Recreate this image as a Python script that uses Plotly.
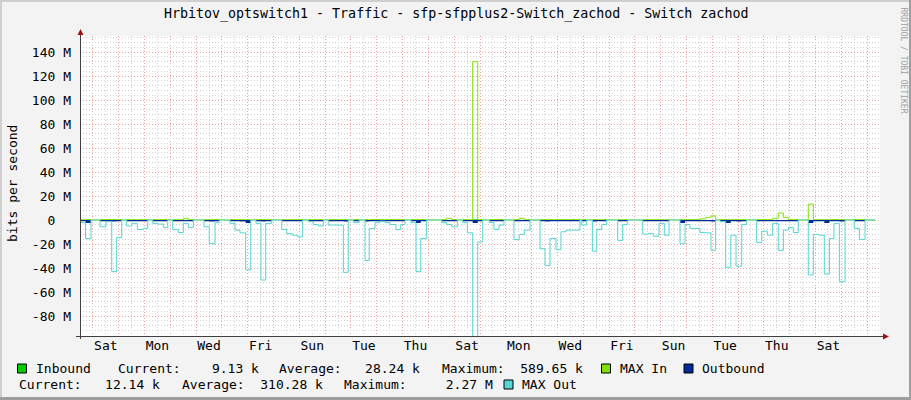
import plotly.graph_objects as go

# ---------------- data (hours since left edge of graph; values in Mbit/s) ----------------
hours = [
    0, 5.1, 10.2, 18.6, 24.2, 29.5, 34.1, 38.8, 43.4, 48.1,
    53.3, 58.9, 63.0, 67.6, 71.9, 77.5, 81.6, 86.2, 91.4, 96.1,
    100.7, 105.4, 115.3, 120.2, 125.6, 129.5, 139.5, 144.2, 148.8, 154.1,
    158.8, 163.7, 168.3, 172.7, 178.3, 187.6, 192.2, 197.4, 202.5, 207.1,
    212.3, 217.0, 221.6, 226.3, 230.9, 244.9, 249.5, 254.2, 259.7, 265.1,
    269.0, 274.4, 279.0, 283.7, 288.3, 293.9, 298.3, 302.3, 307.8, 312.5,
    316.9, 322.4, 336.4, 341.0, 345.7, 350.9, 355.9, 360.2, 365.2, 369.9,
    374.5, 380.6, 385.0, 389.7, 394.3, 403.6, 408.5, 413.2, 418.5, 427.8,
    432.5, 437.1, 442.7, 447.3, 452.0, 465.0, 466.6, 471.2, 476.5, 480.6,
    485.2, 489.8, 500.1, 504.7, 509.4, 523.3, 528.5, 533.2, 538.5, 543.4,
    547.8, 558.0, 562.7, 567.3, 576.6, 581.9, 586.8, 591.2, 595.2, 600.5,
    605.2, 610.1, 615.4, 620.0, 629.3, 634.0, 639.2, 644.2, 649.4, 654.1,
    658.7, 663.4, 668.0, 677.3, 682.0, 687.6, 692.2, 696.9, 701.2, 706.2,
    711.5, 720.1, 724.8, 730.1, 739.4,
]
max_out = [
    -2.2, -15.5, 0, -5.6, -1.4, -43.0, -14.6, 0, -5.0, -2.8,
    -7.9, -7.0, 0, -2.8, -3.4, -6.2, 0, -7.9, -10.4, -2.8,
    -6.2, 0, -5.6, -19.7, -2.2, 0, -2.8, -8.4, -10.7, -41.6,
    0, -2.8, -50.0, -2.8, 0, -7.9, -11.2, -12.7, -14.0, 0,
    -1.4, -3.7, -5.0, 0, -4.2, -43.6, 0, -2.2, 0, -33.7,
    -7.0, -2.2, -1.0, -2.2, -3.7, -7.9, -3.7, 0, -2.2, -43.0,
    -15.5, 0, -2.2, -3.7, -5.6, 0, -2.2, -10.7, -130.0, -18.3,
    0, -2.2, -7.9, -4.2, 0, -16.3, -12.1, -8.4, 0, -23.9,
    -38.0, -15.5, -24.7, -9.8, -8.4, 0, -4.2, 0, -26.0, -7.9,
    -3.7, 0, -17.0, -3.7, 0, -11.8, -11.2, -13.5, -2.8, -12.7,
    0, -19.7, -3.7, -7.0, -10.4, -10.7, -25.3, 0, -1.4, -39.4,
    -12.7, -38.5, -3.7, 0, -18.8, -9.3, -12.7, -2.8, -25.3, -8.4,
    -6.2, -10.4, 0, -45.8, -12.1, -12.7, -45.0, -15.5, -2.8, -51.4,
    0, -7.0, -16.3, 0, 0,
]
max_in = [
    0.3, 0.3, 0, 0.4, 0.4, 0.4, 0.4, 0, 0.3, 0.3,
    0.3, 0.3, 0, 0.3, 0.3, 0.3, 0, 0.3, 0.3, 1.4,
    0.3, 0, 0.3, 0.3, 0.3, 0, 0.3, 0.3, 0.3, 0.3,
    0, 0.3, 0.3, 0.3, 0, 0.3, 0.3, 0.3, 0.3, 0,
    0.3, 0.3, 0.3, 0, 0.3, 0.3, 0, 0.5, 0, 0.3,
    0.3, 0.3, 0.3, 0.3, 0.3, 0.3, 0.3, 0, 0.3, 0.3,
    0.3, 0, 0.3, 1.4, 0.3, 0, 0.3, 0.3, 132.0, 0.3,
    0, 0.3, 0.3, 0.3, 0, 0.3, 1.4, 0.3, 0, 0.3,
    0.3, 0.3, 0.3, 0.3, 0.3, 0, 0.3, 0, 0.3, 0.3,
    0.3, 0, 0.3, 0.3, 0, 0.3, 0.3, 0.3, 0.3, 0.3,
    0, 0.3, 0.3, 0.3, 1.0, 2.2, 3.4, 0, 0.3, 0.3,
    0.3, 0.3, 0.3, 0, 0.3, 0.3, 0.3, 1.4, 5.9, 2.2,
    0.3, 0.3, 0, 13.2, 0.3, 0.3, 0.3, 0.3, 0.3, 0.3,
    0, 0.3, 0.3, 0, 0,
]
outbound = [
    -1.0, -2.4, 0, -1.0, -1.0, -1.2, -1.0, 0, -1.0, -1.0,
    -1.0, -1.0, 0, -1.0, -1.0, -1.0, 0, -1.0, -1.0, -1.0,
    -1.0, 0, -1.0, -1.2, -1.0, 0, -1.0, -1.0, -1.2, -2.4,
    0, -1.0, -1.2, -1.0, 0, -1.0, -1.0, -1.0, -1.0, 0,
    -1.0, -1.0, -1.0, 0, -1.0, -1.2, 0, -1.0, 0, -1.2,
    -1.0, -1.0, -1.0, -1.0, -1.0, -1.0, -1.0, 0, -1.0, -2.4,
    -1.0, 0, -1.0, -1.0, -1.0, 0, -1.0, -1.0, -2.4, -1.0,
    0, -1.0, -1.0, -1.0, 0, -1.0, -1.0, -1.0, 0, -1.0,
    -1.2, -1.0, -1.0, -1.0, -1.0, 0, -1.0, 0, -1.2, -1.0,
    -1.0, 0, -1.0, -1.0, 0, -1.0, -1.0, -1.0, -1.0, -1.0,
    0, -2.4, -1.0, -1.0, -1.0, -1.0, -1.2, 0, -1.0, -2.4,
    -1.0, -1.2, -1.0, 0, -1.0, -1.0, -1.0, -1.0, -1.0, -1.0,
    -1.0, -1.0, 0, -2.4, -1.0, -1.0, -2.4, -1.0, -1.0, -1.2,
    0, -1.0, -1.0, 0, 0,
]
inbound = [
    0.03, 0.03, 0, 0.03, 0.03, 0.03, 0.03, 0, 0.03, 0.03,
    0.03, 0.03, 0, 0.03, 0.03, 0.03, 0, 0.03, 0.03, 0.03,
    0.03, 0, 0.03, 0.03, 0.03, 0, 0.03, 0.03, 0.03, 0.03,
    0, 0.03, 0.03, 0.03, 0, 0.03, 0.03, 0.03, 0.03, 0,
    0.03, 0.03, 0.03, 0, 0.03, 0.03, 0, 0.03, 0, 0.03,
    0.03, 0.03, 0.03, 0.03, 0.03, 0.03, 0.03, 0, 0.03, 0.03,
    0.03, 0, 0.03, 0.03, 0.03, 0, 0.03, 0.03, 0.59, 0.03,
    0, 0.03, 0.03, 0.03, 0, 0.03, 0.03, 0.03, 0, 0.03,
    0.03, 0.03, 0.03, 0.03, 0.03, 0, 0.03, 0, 0.03, 0.03,
    0.03, 0, 0.03, 0.03, 0, 0.03, 0.03, 0.03, 0.03, 0.03,
    0, 0.03, 0.03, 0.03, 0.03, 0.03, 0.03, 0, 0.03, 0.03,
    0.03, 0.03, 0.03, 0, 0.03, 0.03, 0.03, 0.03, 0.03, 0.03,
    0.03, 0.03, 0, 0.03, 0.03, 0.03, 0.03, 0.03, 0.03, 0.03,
    0, 0.03, 0.03, 0, 0,
]

noon_hours = [24, 48, 72, 96, 120, 144, 168, 192, 216, 240, 264, 288, 312, 336, 360,
              384, 408, 432, 456, 480, 504, 528, 552, 576, 600, 624, 648, 672, 696, 720]
noon_labels = ["Sat", "", "Mon", "", "Wed", "", "Fri", "", "Sun", "", "Tue", "", "Thu", "",
               "Sat", "", "Mon", "", "Wed", "", "Fri", "", "Sun", "", "Tue", "", "Thu", "",
               "Sat", ""]
y_ticks = [-80, -60, -40, -20, 0, 20, 40, 60, 80, 100, 120, 140]
y_labels = ["-80 M", "-60 M", "-40 M", "-20 M", "0\u00a0\u00a0", "20 M", "40 M",
            "60 M", "80 M", "100 M", "120 M", "140 M"]

title_text = "Hrbitov_optswitch1 - Traffic - sfp-sfpplus2-Switch_zachod - Switch zachod"
legend_line1 = [("Inbound", 35), ("Current:    9.13 k", 116.7), ("Average:   28.24 k", 278.3),
                ("Maximum:  589.65 k", 440.7), ("MAX In", 619), ("Outbound", 701)]
legend_line2 = [("Current:   12.14 k", 18.3), ("Average:  310.28 k", 181),
                ("Maximum:     2.27 M", 342.7), ("MAX Out", 520.7)]

C_IN = "#00CC00"
C_MAXIN = "#80E000"
C_OUT = "#002A97"
C_MAXOUT = "#55D6D3"

# ---------------- geometry helpers (pixel -> paper) ----------------
W, H = 911, 400
L, R, T, B = 80, 880, 36, 336


def px(x):
    return (x - L) / (R - L)


def py(y):
    return (B - y) / (B - T)


FONT = "DejaVu Sans Mono"

fig = go.Figure()
fig.add_trace(go.Scatter(x=hours, y=inbound, mode="lines", line=dict(shape="hv", width=0, color=C_IN),
                         fill="tozeroy", fillcolor=C_IN, hoverinfo="skip"))
fig.add_trace(go.Scatter(x=hours, y=max_in, mode="lines", line=dict(shape="hv", width=1, color=C_MAXIN),
                         hoverinfo="skip"))
fig.add_trace(go.Scatter(x=hours, y=outbound, mode="lines", line=dict(shape="hv", width=0, color=C_OUT),
                         fill="tozeroy", fillcolor=C_OUT, hoverinfo="skip"))
fig.add_trace(go.Scatter(x=hours, y=max_out, mode="lines", line=dict(shape="hv", width=1, color=C_MAXOUT),
                         hoverinfo="skip"))

RED_GRID = "#EFA0A0"
GRAY_GRID = "#D4D4D4"
DASH = "1px,2px"

fig.update_layout(
    width=W, height=H,
    margin=dict(l=L, r=W - R, t=T, b=H - B, pad=0),
    paper_bgcolor="#F3F3F3", plot_bgcolor="#FFFFFF",
    showlegend=False, hovermode=False,
    font=dict(family=FONT, size=13, color="#000000"),
    xaxis=dict(range=[0, 744], tickmode="array", tickvals=noon_hours, ticktext=noon_labels,
               showgrid=True, gridcolor=GRAY_GRID, griddash=DASH, gridwidth=1,
               minor=dict(tick0=12, dtick=24, showgrid=True, gridcolor=RED_GRID, griddash=DASH,
                          gridwidth=1, ticks=""),
               zeroline=False, showline=False, ticks="", automargin=False, fixedrange=True,
               tickfont=dict(family=FONT, size=13, color="#000")),
    yaxis=dict(range=[-96.67, 153.33], tickmode="array", tickvals=y_ticks, ticktext=y_labels,
               showgrid=True, gridcolor=RED_GRID, griddash=DASH, gridwidth=1,
               minor=dict(tick0=0, dtick=4, showgrid=True, gridcolor=GRAY_GRID, griddash=DASH,
                          gridwidth=1, ticks=""),
               zeroline=False, showline=False, ticks="", ticklabelstandoff=8,
               automargin=False, fixedrange=True,
               tickfont=dict(family=FONT, size=13, color="#000")),
)

shapes = []
# outer frame
shapes.append(dict(type="rect", xref="paper", yref="paper", x0=px(0), x1=px(911), y0=py(0), y1=py(2),
                   fillcolor="#CFCFCF", line=dict(width=0), layer="below"))
shapes.append(dict(type="rect", xref="paper", yref="paper", x0=px(0), x1=px(2), y0=py(0), y1=py(400),
                   fillcolor="#CFCFCF", line=dict(width=0), layer="below"))
shapes.append(dict(type="rect", xref="paper", yref="paper", x0=px(909), x1=px(911), y0=py(0), y1=py(400),
                   fillcolor="#9E9E9E", line=dict(width=0), layer="below"))
shapes.append(dict(type="rect", xref="paper", yref="paper", x0=px(0), x1=px(911), y0=py(397), y1=py(400),
                   fillcolor="#9E9E9E", line=dict(width=0), layer="below"))
# axes
AX = "#404040"
shapes.append(dict(type="line", xref="paper", yref="paper", x0=px(80.5), x1=px(80.5), y0=py(339), y1=py(33),
                   line=dict(color=AX, width=1)))
shapes.append(dict(type="line", xref="paper", yref="paper", x0=px(76), x1=px(884), y0=py(336.5), y1=py(336.5),
                   line=dict(color=AX, width=1)))
ARROW = "#A01010"
shapes.append(dict(type="path", xref="paper", yref="paper",
                   path=f"M {px(77.5)},{py(35)} L {px(83.5)},{py(35)} L {px(80.5)},{py(29)} Z",
                   fillcolor=ARROW, line=dict(color=ARROW, width=0)))
shapes.append(dict(type="path", xref="paper", yref="paper",
                   path=f"M {px(883)},{py(333.5)} L {px(883)},{py(339.5)} L {px(889)},{py(336.5)} Z",
                   fillcolor=ARROW, line=dict(color=ARROW, width=0)))
# legend boxes
for (x0, y0, col) in [(17.5, 364, C_IN), (601.5, 364, C_MAXIN), (684, 364, C_OUT), (504, 380, C_MAXOUT)]:
    shapes.append(dict(type="rect", xref="paper", yref="paper", x0=px(x0), x1=px(x0 + 9),
                       y0=py(y0 + 9), y1=py(y0), fillcolor=col, line=dict(color="#000000", width=1)))
fig.update_layout(shapes=shapes)

ann = []
ann.append(dict(text=title_text.replace(" ", "\u00a0"), x=px(455.5), y=py(14), xref="paper", yref="paper",
                xanchor="center", yanchor="middle", showarrow=False, font=dict(family=FONT, size=13.3)))
ann.append(dict(text="bits\u00a0per\u00a0second", x=px(12), y=py(184), xref="paper", yref="paper",
                xanchor="center", yanchor="middle", textangle=-90, showarrow=False,
                font=dict(family=FONT, size=13)))
ann.append(dict(text="RRDTOOL\u00a0/\u00a0TOBI\u00a0OETIKER", x=px(902.5), y=py(60), xref="paper", yref="paper",
                xanchor="center", yanchor="middle", textangle=90, showarrow=False,
                font=dict(family=FONT, size=8, color="#A0A0A0")))
for txt, x in legend_line1:
    ann.append(dict(text=txt.replace(" ", "\u00a0"), x=px(x - 1), y=py(368.5), xref="paper", yref="paper",
                    xanchor="left", yanchor="middle", showarrow=False, font=dict(family=FONT, size=13)))
for txt, x in legend_line2:
    ann.append(dict(text=txt.replace(" ", "\u00a0"), x=px(x - 1), y=py(384.5), xref="paper", yref="paper",
                    xanchor="left", yanchor="middle", showarrow=False, font=dict(family=FONT, size=13)))
fig.update_layout(annotations=ann)

fig.write_html("out.html", config={"displayModeBar": False},
               post_script="document.body.style.margin='0';document.body.style.padding='0';"
                           "document.body.style.overflow='hidden';")
